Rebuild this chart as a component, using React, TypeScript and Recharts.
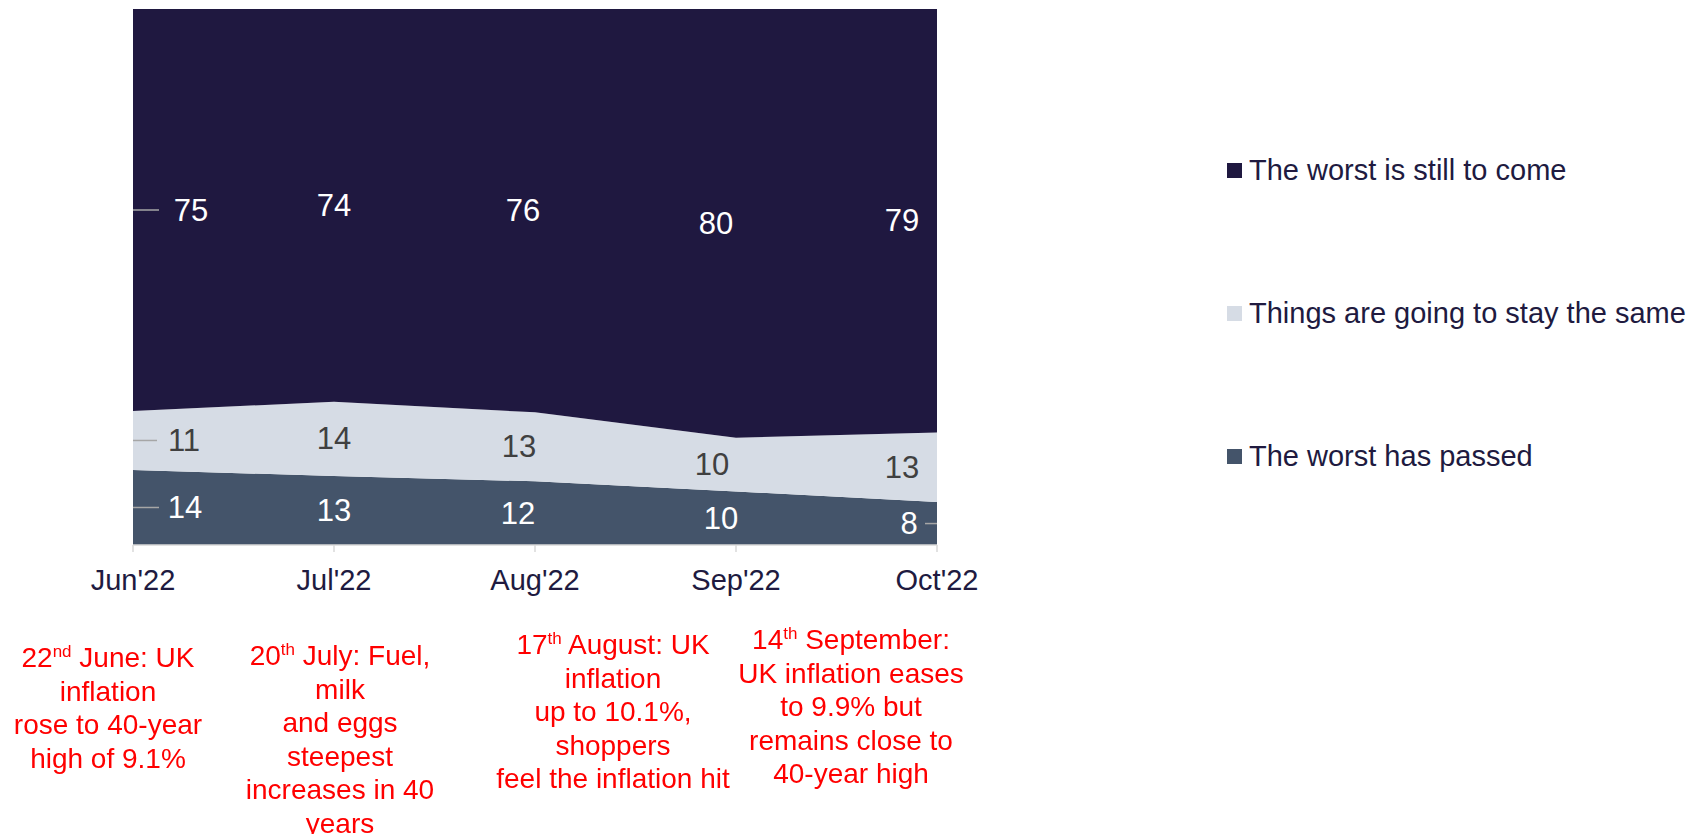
import React from "react";
import { AreaChart, Area, Line, XAxis, YAxis, Legend, LabelList } from "recharts";

const months = ["Jun'22", "Jul'22", "Aug'22", "Sep'22", "Oct'22"];
const worstToCome = [75, 74, 76, 80, 79];
const staySame = [11, 14, 13, 10, 13];
const worstPassed = [14, 13, 12, 10, 8];

const names = {
  toCome: "The worst is still to come",
  same: "Things are going to stay the same",
  passed: "The worst has passed",
};

// event notes under each month (first line has a superscript ordinal)
const notes = [
  { day: "22", ord: "nd", head: " June: UK", lines: ["inflation", "rose to 40-year", "high of 9.1%"] },
  { day: "20", ord: "th", head: " July: Fuel,", lines: ["milk", "and eggs", "steepest", "increases in 40", "years"] },
  { day: "17", ord: "th", head: " August: UK", lines: ["inflation", "up to 10.1%,", "shoppers", "feel the inflation hit"] },
  { day: "14", ord: "th", head: " September:", lines: ["UK inflation eases", "to 9.9% but", "remains close to", "40-year high"] },
];

const FONT = '"Liberation Sans", Arial, sans-serif';
const NAVY = "#201a40";
const COLORS = { toCome: "#1f1840", same: "#d6dce5", passed: "#44546a" };

// shares of 100 per month, plus band midpoints used to place the value labels
const data = months.map((m, i) => {
  const total = worstToCome[i] + staySame[i] + worstPassed[i];
  const p = (worstPassed[i] / total) * 100;
  const s = (staySame[i] / total) * 100;
  const c = (worstToCome[i] / total) * 100;
  return {
    month: m,
    passed: p,
    same: s,
    toCome: c,
    passedMid: p / 2,
    sameMid: p + s / 2,
    toComeMid: p + s + c / 2,
    passedVal: worstPassed[i],
    sameVal: staySame[i],
    toComeVal: worstToCome[i],
  };
});

const makeLabel =
  (dxs: number[], color: string, leaders: ([number, number] | null)[]) =>
  (props: any) => {
    const { x, y, value, index } = props;
    const lead = leaders[index];
    return (
      <g>
        {lead && (
          <line x1={x + lead[0]} x2={x + lead[1]} y1={y} y2={y} stroke="#a6a6a6" strokeWidth={1.5} />
        )}
        <text
          x={x + dxs[index]}
          y={y}
          fill={color}
          fontSize={31}
          fontFamily={FONT}
          textAnchor="middle"
          dominantBaseline="central"
        >
          {value}
        </text>
      </g>
    );
  };

const MonthTick = (props: any) => {
  const { x, y, payload } = props;
  return (
    <text x={x} y={y + 26} fill={NAVY} fontSize={29} fontFamily={FONT} textAnchor="middle" dominantBaseline="central">
      {payload.value}
    </text>
  );
};

const LegendBox = () => {
  const items = [
    { key: "toCome", label: names.toCome },
    { key: "same", label: names.same },
    { key: "passed", label: names.passed },
  ];
  return (
    <div style={{ fontFamily: FONT }}>
      {items.map((it) => (
        <div key={it.key} style={{ display: "flex", alignItems: "center", height: 30, marginBottom: 113 }}>
          <span
            style={{ width: 15, height: 15, background: (COLORS as any)[it.key], marginRight: 7, display: "inline-block" }}
          />
          <span style={{ fontSize: 29, color: NAVY, whiteSpace: "nowrap" }}>{it.label}</span>
        </div>
      ))}
    </div>
  );
};

const notePos = [
  { cx: 108, top: 641 },
  { cx: 340, top: 639 },
  { cx: 613, top: 628 },
  { cx: 851, top: 623 },
];

export default function App() {
  const none = [null, null, null, null, null];
  return (
    <div style={{ position: "fixed", left: 0, top: 0, width: 1691, height: 834, background: "#fff" }}>
      <AreaChart width={1691} height={834} data={data} margin={{ top: 9, right: 754, bottom: 249, left: 133 }}>
        <XAxis
          dataKey="month"
          height={40}
          axisLine={{ stroke: "#d9d9d9", strokeWidth: 1.5 }}
          tickLine={{ stroke: "#d9d9d9", strokeWidth: 1.5 }}
          tickSize={7}
          tick={<MonthTick />}
          interval={0}
        />
        <YAxis hide domain={[0, 100]} type="number" allowDataOverflow />
        <Area dataKey="passed" name={names.passed} stackId="a" type="linear" fill={COLORS.passed} fillOpacity={1} stroke="none" isAnimationActive={false} activeDot={false} />
        <Area dataKey="same" name={names.same} stackId="a" type="linear" fill={COLORS.same} fillOpacity={1} stroke="none" isAnimationActive={false} activeDot={false} />
        <Area dataKey="toCome" name={names.toCome} stackId="a" type="linear" fill={COLORS.toCome} fillOpacity={1} stroke="none" isAnimationActive={false} activeDot={false} />

        <Line dataKey="passedMid" stroke="none" dot={false} activeDot={false} legendType="none" isAnimationActive={false}>
          <LabelList dataKey="passedVal" content={makeLabel([52, 0, -17, -15, -28], "#ffffff", [[0, 26], null, null, null, [-12, 0]])} />
        </Line>
        <Line dataKey="sameMid" stroke="none" dot={false} activeDot={false} legendType="none" isAnimationActive={false}>
          <LabelList dataKey="sameVal" content={makeLabel([51, 0, -16, -24, -35], "#404040", [[0, 24], ...none.slice(1)])} />
        </Line>
        <Line dataKey="toComeMid" stroke="none" dot={false} activeDot={false} legendType="none" isAnimationActive={false}>
          <LabelList dataKey="toComeVal" content={makeLabel([58, 0, -12, -20, -35], "#ffffff", [[0, 26], ...none.slice(1)])} />
        </Line>

        <Legend
          layout="horizontal"
          verticalAlign="middle"
          align="center"
          wrapperStyle={{ left: 1227, top: 155, width: 460, height: 440 }}
          content={<LegendBox />}
        />
      </AreaChart>

      {notes.map((n, i) => (
        <div
          key={i}
          style={{
            position: "absolute",
            left: notePos[i].cx - 150,
            top: notePos[i].top,
            width: 300,
            textAlign: "center",
            color: "#ff0000",
            fontFamily: FONT,
            fontSize: 28,
            lineHeight: "33.5px",
            whiteSpace: "nowrap",
          }}
        >
          <div>
            {n.day}
            <sup style={{ fontSize: 17, lineHeight: 0 }}>{n.ord}</sup>
            {n.head}
          </div>
          {n.lines.map((l, j) => (
            <div key={j}>{l}</div>
          ))}
        </div>
      ))}
    </div>
  );
}
